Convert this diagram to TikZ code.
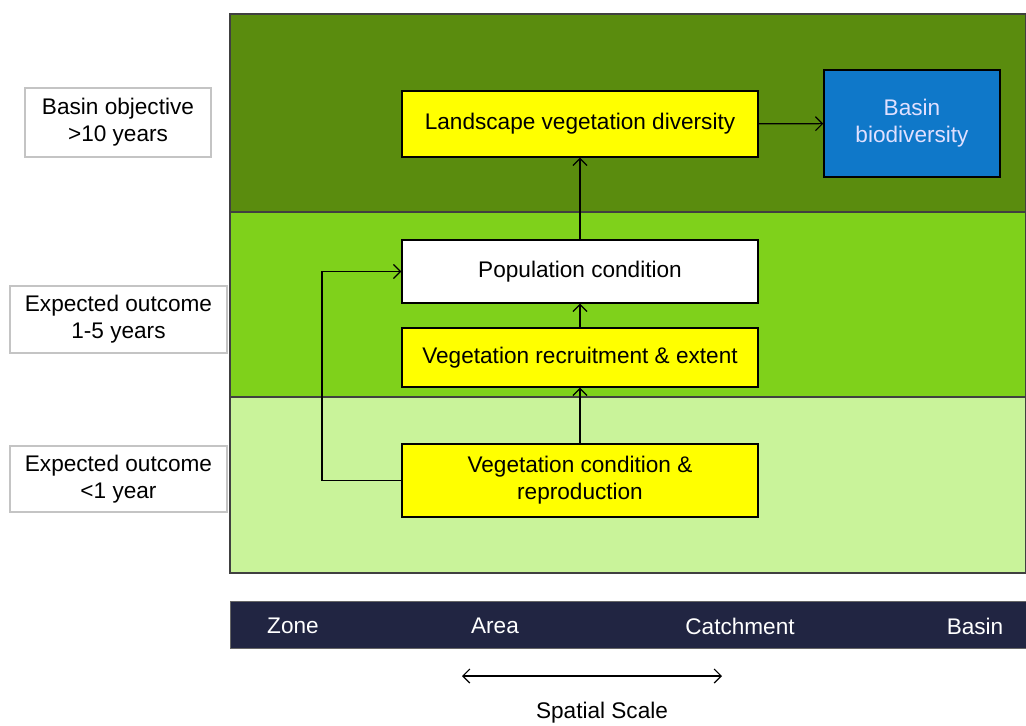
\documentclass[tikz,border=0pt]{standalone}
\usepackage{fontspec}
\setmainfont{Liberation Sans}
\usetikzlibrary{calc, arrows.meta}
\definecolor{bandtop}{HTML}{5A8C0E}
\definecolor{bandmid}{HTML}{7FD11B}
\definecolor{bandlow}{HTML}{C9F39A}
\definecolor{scalebar}{HTML}{212542}
\definecolor{basinblue}{HTML}{0F78C9}
\definecolor{boxyellow}{HTML}{FFFF00}
\definecolor{labelgray}{HTML}{C4C4C4}
\begin{document}
\begin{tikzpicture}[x=0.5pt, y=-0.5pt,
    font=\fontsize{11.3}{13.5}\selectfont,
    >={Straight Barb[length=3.5pt, width=7pt]},
    stepbox/.style={draw=black, line width=0.7pt, fill=boxyellow, align=center,
      minimum width=178pt, inner sep=0pt},
    sidebox/.style={draw=labelgray, line width=0.8pt, fill=white, align=center,
      inner sep=0pt},
    band/.style={draw=black!75, line width=0.6pt},
    flow/.style={->, line width=0.6pt}]
  \useasboundingbox (0, 0) rectangle (1026, 725);
  % time bands
  \fill[bandtop] (230, 14) rectangle (1026, 212);
  \fill[bandmid] (230, 212) rectangle (1026, 397);
  \fill[bandlow] (230, 397) rectangle (1026, 573);
  \draw[band] (230, 212) -- (1026, 212);
  \draw[band] (230, 397) -- (1026, 397);
  \draw[band] (230, 14) rectangle (1026, 573);
  % side labels
  \node[sidebox, minimum width=93pt, minimum height=34.5pt] (obj) at (118, 122.5)
    {Basin objective\\>10 years};
  \node[sidebox, minimum width=108.5pt, minimum height=33.5pt] (mid) at (118.5, 319.5)
    {Expected outcome\\1-5 years};
  \node[sidebox, minimum width=108.5pt, minimum height=33pt] (low) at (118.5, 479)
    {Expected outcome\\<1 year};
  % boxes
  \node[stepbox, minimum height=33pt] (land) at (580, 124) {Landscape vegetation diversity};
  \node[draw=black, line width=0.7pt, fill=basinblue, text=white!88!blue,
    minimum width=88pt, minimum height=53.5pt, align=center] (basin) at (912, 123.5)
    {Basin\\biodiversity};
  \node[stepbox, fill=white, minimum height=31.5pt] (pop) at (580, 271.5) {Population condition};
  \node[stepbox, minimum height=29.5pt] (recr) at (580, 357.5) {Vegetation recruitment \& extent};
  \node[stepbox, minimum height=36.5pt] (cond) at (580, 480.5) {Vegetation condition \&\\reproduction};
  % connectors
  \path[flow] (land) edge (basin);
  \path[flow] (pop) edge (land);
  \path[flow] (recr) edge (pop);
  \path[flow] (cond) edge (recr);
  \coordinate (fb) at (322, 400);
  \draw[flow] (cond.west) -| (fb) |- (pop.west);
  % spatial scale
  \fill[scalebar] (230, 601) rectangle (1026, 648);
  \draw[black!60, line width=0.5pt] (230, 601) rectangle (1026, 648);
  \node[text=white] (zone) at (293, 626) {Zone};
  \node[text=white] (area) at (495, 626) {Area};
  \node[text=white] (catch) at (740, 626) {Catchment};
  \node[text=white] (bas) at (975, 626) {Basin};
  \coordinate (sl) at (462, 676);
  \coordinate (sr) at (722, 676);
  \draw[<->, line width=0.6pt] (sl) -- (sr);
  \node (spatial) at (602, 713) {Spatial Scale};
\end{tikzpicture}
\end{document}
